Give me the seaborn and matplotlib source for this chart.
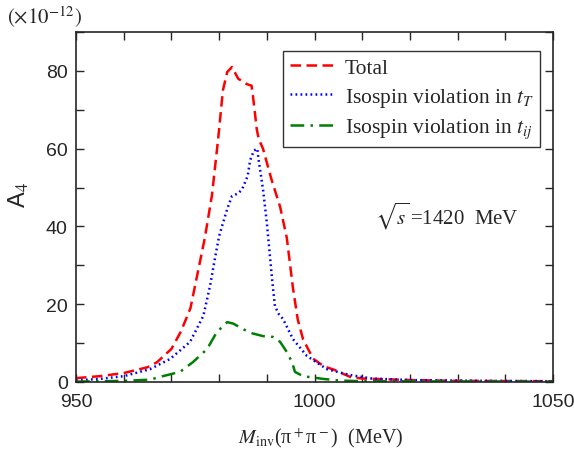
import numpy as np
import pandas as pd
import seaborn as sns
import matplotlib
matplotlib.use("Agg")
import matplotlib.pyplot as plt
from matplotlib.ticker import MultipleLocator

# ---- data ----
total_x = [950, 955, 960, 965, 967, 970, 972, 974, 976, 977, 978.5, 979.8, 980.8, 981.7,
           982.7, 984.0, 985.8, 986.8, 987.1, 987.9, 988.3, 989.2, 991.0, 992.8, 994.2,
           995.5, 996.5, 997.6, 999.7, 1002, 1004, 1007.5, 1010, 1020, 1030, 1050]
total_y = [1.0, 1.5, 2.3, 3.8, 5.1, 8.5, 13, 19, 31, 37, 48, 62.5, 75, 79.7,
           81, 78, 76.6, 76.2, 73.5, 65, 62.5, 60, 52, 45, 37,
           24, 16, 11, 6, 4, 3.2, 1.3, 0.9, 0.5, 0.3, 0.2]

tT_x = [950, 955, 960, 965.5, 969.7, 973.9, 976.7, 978.1, 979.1, 980.0, 980.6, 981.7,
        982.7, 984.0, 984.8, 986.0, 986.5, 987.3, 988.0, 988.3, 989.2, 990.0, 991.1,
        991.7, 992.5, 993.4, 995.5, 998.4, 1002.6, 1007.4, 1012, 1020, 1035, 1050]
tT_y = [0.4, 0.8, 1.5, 3.3, 5.9, 10.3, 17, 24.7, 31.6, 37.5, 40, 44.5,
        47.8, 48.5, 49.5, 53, 57, 59.5, 60, 57, 49.6, 41, 26.5,
        19.5, 17.5, 16.2, 11, 6.7, 3.3, 1.8, 0.9, 0.5, 0.3, 0.2]

tij_x = [950, 960, 965.5, 968.2, 971.8, 974.5, 977.5, 979.5, 981.7, 983, 985, 987,
         989.2, 991.3, 992.8, 994.2, 995.3, 995.9, 997.6, 1001.8, 1005, 1010, 1050]
tij_y = [0.1, 0.3, 0.6, 1.5, 2.6, 5.1, 8.5, 12.8, 15.4, 15, 13.6, 12.5,
         11.8, 11.6, 10.3, 7.7, 5.1, 2.6, 1.5, 0.8, 0.4, 0.2, 0.1]

labels = ["Total", r"Isospin violation in $t_T$", r"Isospin violation in $t_{ij}$"]
colors = ["#ff0000", "#0000ff", "#008000"]

df = pd.concat([
    pd.DataFrame({"x": total_x, "y": total_y, "series": labels[0]}),
    pd.DataFrame({"x": tT_x, "y": tT_y, "series": labels[1]}),
    pd.DataFrame({"x": tij_x, "y": tij_y, "series": labels[2]}),
])

sns.set_style("ticks")
plt.rcParams["mathtext.fontset"] = "stix"
plt.rcParams["font.family"] = ["Liberation Sans", "DejaVu Sans"]

fig = plt.figure(figsize=(5.74, 4.56), dpi=100)
ax = fig.add_axes([76 / 574, 1 - 383 / 456, (553 - 76) / 574, (383 - 33) / 456])

styles = {labels[0]: (0, (4.2, 2.2)), labels[1]: (0, (0.7, 1.3)), labels[2]: (0, (5.5, 2.5, 1, 2.5))}
for lab, col in zip(labels, colors):
    sub = df[df["series"] == lab]
    sns.lineplot(data=sub, x="x", y="y", ax=ax, color=col, lw=1.8, label=lab,
                 linestyle=styles[lab], sort=False)

ax.set_xlim(950, 1050)
ax.set_ylim(0, 90)
ax.xaxis.set_major_locator(MultipleLocator(50))
ax.xaxis.set_minor_locator(MultipleLocator(10))
ax.yaxis.set_major_locator(MultipleLocator(20))
ax.yaxis.set_minor_locator(MultipleLocator(10))
ax.tick_params(which="both", direction="in", top=True, right=True, width=1.0)
ax.tick_params(which="major", length=6, labelsize=14)
ax.tick_params(axis="x", which="major", pad=8)
ax.tick_params(axis="y", which="major", pad=6)
ax.tick_params(which="minor", length=6)
for s in ax.spines.values():
    s.set_linewidth(1.2)

ax.set_xlabel(r"$M_{\rm inv}$(π$^+$π$^-$)  (MeV)", family="Liberation Serif", fontsize=14.5,
              labelpad=11, x=(320.5 - 76) / 477)
ax.set_ylabel(r"A$_4$", fontsize=17)
ax.yaxis.set_label_coords((31 - 76) / 477, (383 - 195) / 350)

leg = ax.legend(loc="upper right", bbox_to_anchor=((540 - 76) / 477, (383 - 52) / 350),
                prop={"family": "Liberation Serif", "size": 15.5},
                frameon=True, fancybox=False, edgecolor="black", handlelength=2.0,
                labelspacing=0.38, borderpad=0.3, handletextpad=0.55, borderaxespad=0.0)
leg.get_frame().set_linewidth(1.0)

ax.text((375 - 76) / 477, (383 - 225) / 350, r"$\sqrt{s}\,$=1420  MeV", transform=ax.transAxes,
        fontsize=15, family="Liberation Serif", va="baseline")
fig.text(7 / 574, 1 - 17 / 456, r"$(\times10^{-12})$", fontsize=15, va="center", ha="left")

fig.savefig("out.png", dpi=100)
